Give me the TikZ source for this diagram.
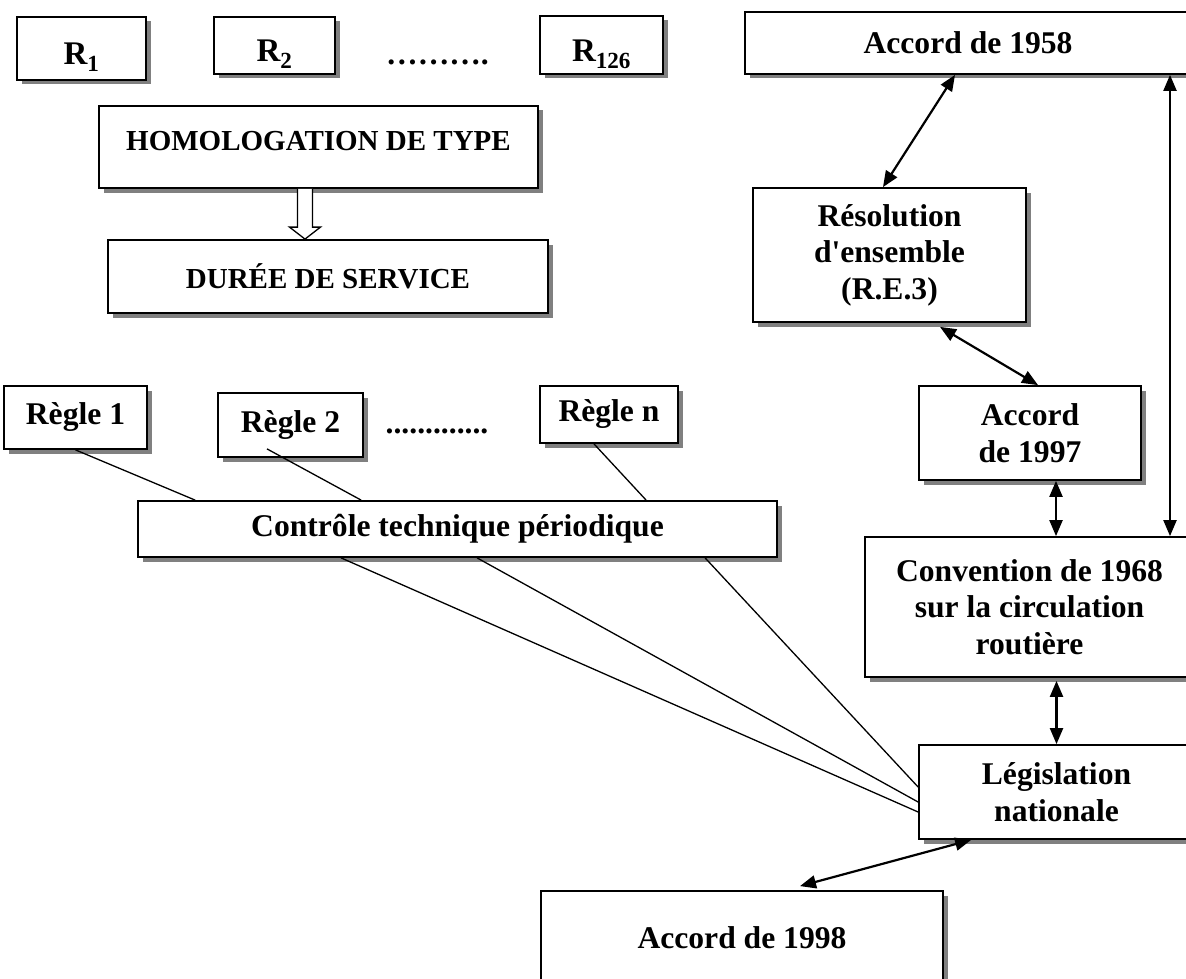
\documentclass[tikz,border=0pt]{standalone}
\usepackage{fontspec}
\setmainfont{Liberation Serif}
\usetikzlibrary{arrows.meta,shadows,calc}

\begin{document}
\begin{tikzpicture}[x=1pt,y=-1pt,
    box/.style={draw, line width=1.8pt, fill=white, align=center, inner sep=0pt,
        drop shadow={shadow xshift=5pt, shadow yshift=-4.5pt, fill=gray, opacity=1},
        font=\fontsize{31.6}{36.5}\selectfont\bfseries},
    small/.style={font=\fontsize{29}{34}\selectfont\bfseries},
    reg/.style={font=\fontsize{33}{38}\selectfont\bfseries, text height=33pt, text depth=0pt},
    link/.style={line width=2.2pt, <->, >={Triangle[length=16pt,width=13pt]}},
    feed/.style={line width=1.3pt},
    hollow/.style={draw, line width=1.3pt, fill=white}]
    \useasboundingbox (0,0) rectangle (1186,979);
    \clip (0,0) rectangle (1186,979);

    \node [box, reg, minimum width=129pt, minimum height=63pt] at (81.5,48.5) (r1) {R\textsubscript{1}};
    \node [box, reg, minimum width=121pt, minimum height=57pt] at (274.5,45.5) (r2) {R\textsubscript{2}};
    \node [anchor=base, font=\fontsize{31.6}{36.5}\selectfont\bfseries] at (437.5,65) (dots1) {……….};
    \node [box, reg, minimum width=123pt, minimum height=58pt] at (601.5,45) (r126) {R\textsubscript{126}};

    \node [box, small, text depth=12pt, minimum width=439pt, minimum height=82pt] at (318.5,147) (homol) {HOMOLOGATION DE TYPE};
    \node [box, small, minimum width=440pt, minimum height=73pt] at (328,276.5) (duree) {DURÉE DE SERVICE};

    \node [box, minimum width=143pt, minimum height=63pt] at (75.5,417.5) (rg1) {Règle 1};
    \node [box, minimum width=145pt, minimum height=64pt] at (290.5,425) (rg2) {Règle 2};
    \node [anchor=base, font=\fontsize{31.6}{36.5}\selectfont\bfseries] at (437,433) (dots2) {.............};
    \node [box, minimum width=138pt, minimum height=57pt] at (609,414.5) (rgn) {Règle n};
    \node [box, minimum width=639pt, minimum height=56pt] at (457.5,529) (ctrl) {Contrôle technique périodique};

    \node [box, minimum width=446pt, minimum height=62pt] at (968,43) (acc58) {Accord de 1958};
    \node [box, minimum width=273pt, minimum height=134pt] at (889.5,255) (reso) {Résolution\\d\textquotesingle ensemble\\(R.E.3)};
    \node [box, minimum width=222pt, minimum height=94pt] at (1030,433) (acc97) {Accord\\de 1997};
    \node [box, minimum width=329pt, minimum height=140pt] at (1029.5,607) (conv) {Convention de 1968\\sur la circulation\\routière};
    \node [box, minimum width=275pt, minimum height=94pt] at (1056.5,792) (legis) {Législation\\nationale};
    \node [box, minimum width=402pt, minimum height=94pt] at (742,938) (acc98) {Accord de 1998};

    \coordinate (ax) at (305,0);
    \draw [hollow] ($(ax |- homol.south)+(-7.5,0)$) -- ($(ax |- duree.north)+(-7.5,-12)$) -- ++(-8,0)
        -- (ax |- duree.north) -- ++(15.5,-12) -- ++(-8,0) -- ($(ax |- homol.south)+(7.5,0)$);

    \draw [feed] (rg1.south) -- ([xshift=58pt]ctrl.north west);
    \draw [feed] ([xshift=-23.5pt, yshift=9pt]rg2.south) -- ([xshift=224pt]ctrl.north west);
    \draw [feed] ([xshift=-15pt]rgn.south) -- ([xshift=509pt]ctrl.north west);
    \draw [feed] ([xshift=204pt]ctrl.south west) -- ([yshift=-20pt]legis.west);
    \draw [feed] ([xshift=340pt]ctrl.south west) -- ([yshift=-10pt]legis.west);
    \draw [feed] ([xshift=568pt]ctrl.south west) -- ([yshift=5pt]legis.west);

    \draw [link] ([xshift=-13pt]acc58.south) -- ([xshift=-6.5pt]reso.north);
    \draw [link] ([xshift=50.5pt, yshift=-4pt]reso.south) -- ([xshift=8pt]acc97.north);
    \draw [link] ([xshift=26pt]acc97.south) -- ([xshift=26pt]acc97.south |- conv.north);
    \draw [link] ([xshift=202pt]acc58.south) -- ([xshift=202pt]acc58.south |- conv.north);
    \draw [link] ([yshift=-3pt]conv.south -| legis.north) -- (legis.north);
    \draw [link] ([xshift=53pt]legis.south west) -- ([xshift=58pt, yshift=4pt]acc98.north);
\end{tikzpicture}
\end{document}
